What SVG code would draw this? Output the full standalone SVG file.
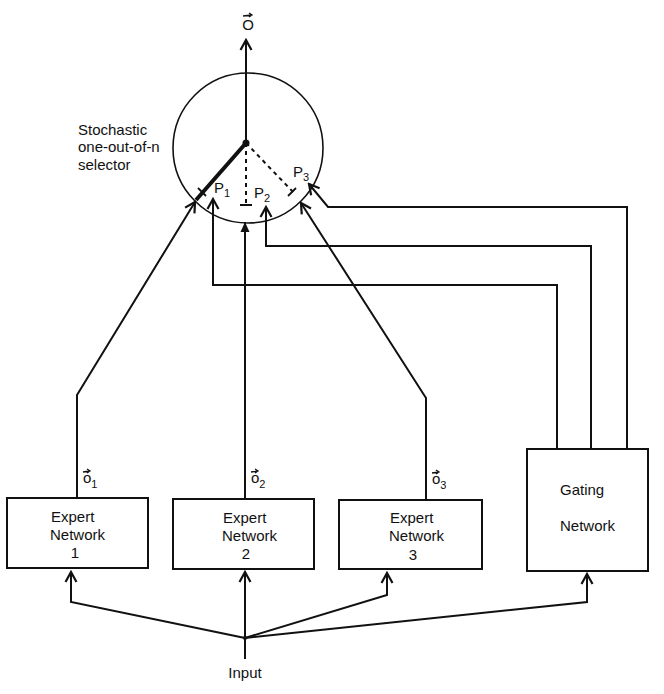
<svg xmlns="http://www.w3.org/2000/svg" width="664" height="694" viewBox="0 0 664 694">
<style>
text{font-family:"Liberation Sans",Arial,sans-serif;fill:#111;font-size:15px}
.box{fill:#fff;stroke:#111;stroke-width:2}
.ln{fill:none;stroke:#111;stroke-width:2;stroke-linejoin:miter}
.acc{fill:none;stroke:#111;stroke-width:1.3}
.sub{font-size:11px}
</style>
<defs>
<marker id="ch" viewBox="-12 -8 14 16" refX="0" refY="0" markerWidth="14" markerHeight="16" markerUnits="userSpaceOnUse" orient="auto">
<path d="M-10,-5.5 L0,0 L-10,5.5" fill="none" stroke="#111" stroke-width="2.2"/>
</marker>
<marker id="fill" viewBox="-12 -6 13 12" refX="0" refY="0" markerWidth="13" markerHeight="12" markerUnits="userSpaceOnUse" orient="auto">
<path d="M-10,-4.5 L0,0 L-10,4.5 Z" fill="#111"/>
</marker>
</defs>

<g id="output">
<text x="248" y="30" text-anchor="middle" font-size="14">O</text>
<path class="acc" d="M243,16 L252,15 M249,13 L252,15 L249,17"/>
</g>

<g id="selector">
<circle cx="248" cy="148" r="75" fill="none" stroke="#111" stroke-width="1.6"/>
<text x="78" y="135">Stochastic</text>
<text x="78" y="152">one-out-of-n</text>
<text x="78" y="170">selector</text>
<line x1="246" y1="143" x2="196" y2="200" stroke="#111" stroke-width="4"/>
<line x1="246" y1="143" x2="294" y2="193" stroke="#111" stroke-width="2" stroke-dasharray="4 4"/>
<line x1="246" y1="143" x2="246" y2="205" stroke="#111" stroke-width="2" stroke-dasharray="4 4"/>
<line x1="240" y1="205" x2="252" y2="205" stroke="#111" stroke-width="2"/>
<line x1="198" y1="188" x2="206" y2="196" stroke="#111" stroke-width="1.8"/>
<line x1="288" y1="196" x2="296" y2="188" stroke="#111" stroke-width="1.8"/>
<circle cx="246" cy="143" r="3.5" fill="#111"/>
<text x="214" y="193">P<tspan class="sub" dy="4">1</tspan></text>
<text x="254" y="198">P<tspan class="sub" dy="4">2</tspan></text>
<text x="293" y="177">P<tspan class="sub" dy="4">3</tspan></text>
</g>

<g id="expert1">
<rect class="box" x="7" y="498" width="141" height="70"/>
<text x="51" y="522">Expert</text>
<text x="50" y="540">Network</text>
<text x="75" y="558" text-anchor="middle">1</text>
</g>
<g id="expert2">
<rect class="box" x="173" y="499" width="141" height="70"/>
<text x="223" y="523">Expert</text>
<text x="222" y="541">Network</text>
<text x="246" y="559" text-anchor="middle">2</text>
</g>
<g id="expert3">
<rect class="box" x="339" y="500" width="143" height="69"/>
<text x="390" y="523">Expert</text>
<text x="389" y="541">Network</text>
<text x="413" y="560" text-anchor="middle">3</text>
</g>
<g id="gating">
<rect class="box" x="527" y="449" width="121" height="122"/>
<text x="560" y="495">Gating</text>
<text x="560" y="531">Network</text>
</g>

<g id="input">
<text x="245" y="678" text-anchor="middle">Input</text>
</g>

<g id="connectors">
<polyline class="ln" points="246,143 246,40" marker-end="url(#ch)"/>
<polyline class="ln" points="77,498 77,395 195,202" marker-end="url(#ch)"/>
<polyline class="ln" points="245,499 245,222" marker-end="url(#fill)"/>
<polyline class="ln" points="426,500 426,398 301,203" marker-end="url(#ch)"/>
<polyline class="ln" points="557,449 557,285 213,285 213,199" marker-end="url(#ch)"/>
<polyline class="ln" points="591,449 591,246 266,246 266,207" marker-end="url(#ch)"/>
<polyline class="ln" points="627,449 627,207 328,207 309,184" marker-end="url(#ch)"/>
<polyline class="ln" points="245,659 245,638"/>
<polyline class="ln" points="245,638 71,602 71,572" marker-end="url(#ch)"/>
<polyline class="ln" points="245,638 245,572" marker-end="url(#ch)"/>
<polyline class="ln" points="245,638 387,595 387,573" marker-end="url(#ch)"/>
<polyline class="ln" points="245,638 587,602 587,574" marker-end="url(#ch)"/>
<circle cx="245" cy="638" r="2" fill="#111"/>
<text x="83" y="483" font-size="14">o<tspan class="sub" dy="5">1</tspan></text>
<path class="acc" d="M83,472 L90,471 M87,469 L90,471 L87,473"/>
<text x="251" y="483" font-size="14">o<tspan class="sub" dy="5">2</tspan></text>
<path class="acc" d="M251,472 L258,471 M255,469 L258,471 L255,473"/>
<text x="432" y="484" font-size="14">o<tspan class="sub" dy="5">3</tspan></text>
<path class="acc" d="M432,473 L439,472 M436,470 L439,472 L436,474"/>
</g>
</svg>
